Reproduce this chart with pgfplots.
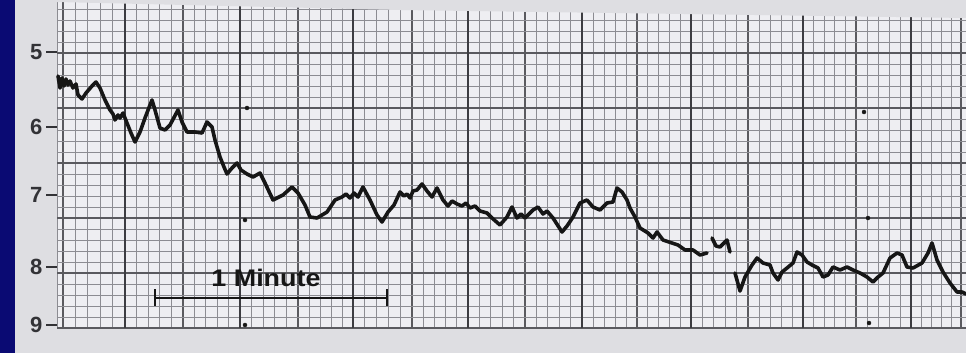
\documentclass[border=0pt]{standalone}
\usepackage{pgfplots}
\pgfplotsset{compat=1.18}
\usepackage{fontspec}
\setmainfont{Liberation Sans}

\definecolor{slideblue}{RGB}{10,10,115}
\definecolor{paper}{RGB}{222,222,226}
\definecolor{gridbg}{RGB}{238,238,242}
\definecolor{minorc}{RGB}{140,140,146}
\definecolor{majorc}{RGB}{90,90,95}
\definecolor{thickc}{RGB}{60,60,65}
\definecolor{labc}{RGB}{50,50,54}
\definecolor{penc}{RGB}{22,22,22}

% recorder trace: chart position along the strip, pen position across it
\pgfplotstableread{
x y
58 76
60 88
62 78
64 86
66 79
68 85
70 81
73 88
76 84
78 95
82 99
86 93
92 86
96 82
100 88
105 100
110 110
113 114
115 120
118 115
120 118
123 113
127 123
131 133
135 142
140 132
145 118
150 105
152 100
155 110
160 128
165 130
170 125
178 110
182 122
187 132
195 132
202 133
207 122
212 127
215 140
220 157
224 167
227 174
232 168
237 163
241 170
247 174
253 177
260 173
265 183
273 200
283 195
292 187
298 193
305 205
310 217
317 218
327 212
335 200
342 197
346 194
350 198
354 193
358 197
363 187
370 200
377 215
382 222
388 212
394 205
400 192
404 196
407 194
410 198
413 191
417 190
422 184
427 191
432 197
437 188
443 200
448 206
452 201
457 204
462 206
466 203
470 208
475 206
480 211
487 213
492 218
500 225
507 217
512 207
517 218
521 214
525 218
533 210
538 207
543 214
547 211
553 218
562 232
567 226
573 217
580 203
587 200
593 207
600 210
607 203
613 202
617 188
622 192
627 200
630 208
635 217
640 228
648 233
653 238
657 232
663 240
672 243
678 245
685 250
693 250
700 255
707 253
nan nan
712 238
716 246
720 247
724 243
727 240
730 252
nan nan
735 273
740 291
745 277
752 265
757 258
763 263
770 265
773 273
778 280
782 272
787 268
793 263
797 252
802 255
807 262
812 265
818 268
823 277
828 275
833 267
840 270
847 267
853 270
860 273
867 277
873 282
878 277
883 273
890 258
897 253
902 255
907 267
913 268
922 263
928 253
932 243
937 260
943 272
950 283
957 292
962 292
966 294
}\trace

% timing dots left by the event pen
\pgfplotstableread{
x y
247 108
245 220
245 325
864 112
868 218
869 323
}\marks

\begin{document}
\begin{tikzpicture}
\fill[slideblue] (0,0) rectangle (15pt,353pt);
\fill[paper] (15pt,0) rectangle (966pt,353pt);
\begin{axis}[
  at={(57pt,25pt)}, anchor=south west, scale only axis,
  width=909pt, height=326pt,
  xmin=57, xmax=966, ymin=2, ymax=328, y dir=reverse,
  axis line style={draw=none},
  axis background/.style={fill=gridbg},
  xtick={63,125,183,240,298,353,412,468,525,582,637,691,748,803,856,911,961},
  xticklabels={},
  minor xtick={57,75.4,87.8,100.2,112.6,136.6,148.2,159.8,171.4,194.4,205.8,217.2,228.6,251.6,263.2,274.8,286.4,309,320,331,342,364.8,376.6,388.4,400.2,423.2,434.4,445.6,456.8,479.4,490.8,502.2,513.6,536.4,547.8,559.2,570.6,593,604,615,626,647.8,658.6,669.4,680.2,702.4,713.8,725.2,736.6,759,770,781,792,813.6,824.2,834.8,845.4,867,878,889,900,921,931,941,951},
  ytick={53,108,163,218,273,328},
  yticklabels={},
  minor ytick={9,20,31,42,64,75,86,97,119,130,141,152,174,185,196,207,229,240,251,262,284,295,306,317},
  grid=both,
  major tick length=0pt, minor tick length=0pt,
  xtick pos=bottom, ytick pos=left,
  major grid style={color=majorc, line width=1.1pt},
  minor grid style={color=minorc, line width=0.8pt},
  extra x ticks={125,240,353,468,582,691,803,911},
  extra x tick labels={},
  extra x tick style={major grid style={color=thickc, line width=1.7pt}},
  extra y ticks={52,127,195,267,325},
  extra y tick labels={5,6,7,8,9},
  extra y tick style={grid=none, major tick length=11pt, tick align=outside,
    tick style={line width=1.5pt, color=labc}},
  yticklabel style={font=\fontsize{22}{24}\selectfont\bfseries, text=labc},
  clip=false,
]
\addplot[penc, line width=3.6pt, line join=round, line cap=round,
  unbounded coords=jump] table[x=x, y=y] {\trace};
\addplot[only marks, mark=*, mark size=2pt, penc] table[x=x, y=y] {\marks};
% torn upper edge of the chart paper
\fill[paper] (axis cs:57,-1) -- (axis cs:967,-1) -- (axis cs:967,18)
  -- (axis cs:400,10) -- (axis cs:57,2) -- cycle;
% time scale bar
\draw[penc, line width=2pt] (axis cs:155,298) -- (axis cs:387,298);
\draw[penc, line width=2.2pt] (axis cs:155,289) -- (axis cs:155,306);
\draw[penc, line width=2.2pt] (axis cs:387,289) -- (axis cs:387,306);
\node[text=penc, font=\fontsize{24}{26}\selectfont\bfseries, xscale=1.12]
  at (axis cs:266,278) {1 Minute};
\end{axis}
\pgfresetboundingbox
\useasboundingbox (0,0) rectangle (966pt,353pt);
\end{tikzpicture}
\end{document}
